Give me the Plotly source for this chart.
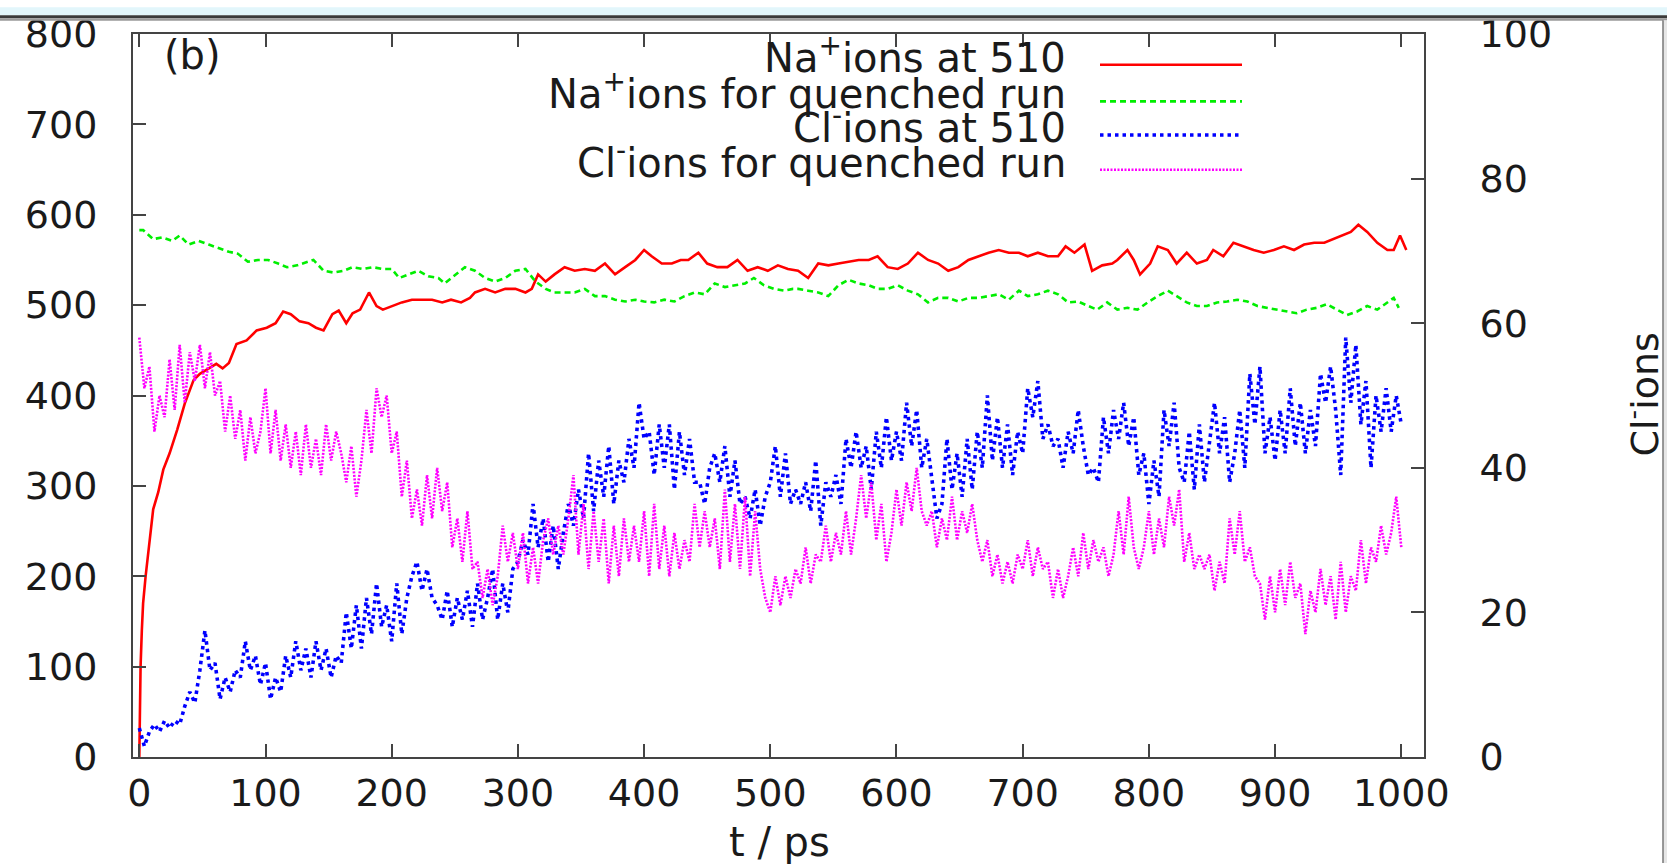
import plotly.graph_objects as go

# ---------------- data ----------------
NA510_T = [0,0.5,1,2,3,5,7,9,11,15,19,24,30,36,43,48,56,61,66,71,77,85,93,101,108,114,120,127,134,140,
           146,153,158,164,169,175,182,188,193,200,208,216,224,232,240,247,255,262,266,274,282,290,298,306,311,316,322,329,337,345,
           353,361,369,377,385,393,400,406,414,422,429,435,443,450,458,466,474,482,490,498,506,514,522,530,538,546,554,562,570,578,
           585,593,601,609,617,625,633,641,649,657,665,673,681,689,697,704,712,720,728,734,741,749,755,763,771,775,783,788,793,801,
           807,815,822,830,838,846,851,859,867,875,883,891,899,907,915,923,931,939,946,954,960,966,973,981,989,994,999,1004]
NA510_V = [0,60,100,140,170,200,227,252,274,293,318,336,362,391,417,424,431,435,430,436,457,461,472,475,480,493,490,482,480,475,
           472,490,494,480,491,495,514,499,495,499,503,506,506,506,503,506,503,508,514,518,514,518,518,514,518,534,526,534,542,538,
           540,538,546,534,542,550,561,554,546,546,550,550,558,546,542,542,550,538,542,538,544,540,538,530,546,544,546,548,550,550,
           554,542,540,546,558,550,546,538,542,550,554,558,561,558,558,554,558,554,554,565,558,567,538,544,546,550,561,550,534,546,
           565,561,546,558,546,550,561,554,569,565,561,558,561,565,561,567,569,569,573,577,581,589,581,569,561,561,577,561]

NAQ_T = [0,3,11,18,26,32,39,47,55,63,71,78,86,94,102,110,117,125,133,138,146,154,162,169,177,185,193,200,206,214,
         221,229,237,242,250,258,266,274,282,290,298,306,314,322,329,337,345,353,361,369,377,385,393,400,408,416,424,432,440,448,
         456,464,472,480,487,495,503,511,518,522,530,538,546,554,562,570,578,585,593,601,609,617,625,633,641,649,657,665,673,681,
         689,697,704,712,720,728,736,744,752,759,767,775,783,791,799,807,815,822,830,838,846,854,862,870,878,886,894,902,910,917,
         925,933,941,949,957,965,973,981,989,994,998]
NAQ_V = [583,583,573,575,571,577,567,571,567,563,559,557,548,550,550,546,542,544,548,550,538,536,538,542,540,542,540,540,530,534,
         538,532,530,524,533,542,538,530,526,530,538,540,526,518,514,514,514,518,510,510,506,504,506,504,503,506,504,510,514,512,
         524,520,522,524,530,522,518,516,518,518,516,514,510,522,528,524,522,518,518,522,516,512,503,508,508,504,508,508,510,512,
         506,516,510,512,516,512,503,504,499,495,503,495,497,495,503,510,516,510,503,499,499,503,504,506,504,499,497,495,493,491,
         495,497,501,495,489,493,499,495,503,508,497]

CL_T = list(range(0, 1001, 4))
CL510_V = [4,1.5,3.5,4.5,3.5, 5,4,5,4.5,7, 9,7.5,12,17.5,12, 13,8,11,9,12, 11,16,12,14,10,
           13,8,11,9,14, 11,16,12,15,11, 16,12,15,11,14, 13,20,15,21,15, 22,17,24,18,21,
           16,24,17,22,25, 27,23,26,22,21, 19,23,18,22,19, 23,18,24,19,22, 26,19,24,20,26,
           27,30,28,35,29, 33,27,32,26,31, 35,32,37,33,42, 34,41,36,43,35, 41,38,44,40,49,
           44,45,39,46,40, 46,37,45,39,44, 38,38,35,40,42, 38,43,36,41,35, 36,33,37,32,36,
           38,43,36,42,35, 37,35,38,34,41, 32,38,36,39,35, 44,40,45,40,43, 37,45,40,47,41,
           45,41,49,43,48, 40,44,38,33,35, 44,37,42,36,44, 37,45,40,50,41, 47,40,46,39,45,
           42,51,47,52,44, 46,43,44,40,45, 42,48,43,39,40, 38,47,42,48,44, 49,43,47,39,42,
           35,41,36,48,43, 49,40,38,45,37, 46,38,44,49,42, 47,38,42,48,40, 53,46,54,42,47,
           41,48,42,51,43, 49,42,48,43,53, 49,54,48,39,58, 49,57,46,52,40, 50,45,51,45,50,46]
CLQ_V = [58,51,54,45,50, 47,55,48,57,49, 56,52,57,51,56, 50,52,45,50,44, 48,41,47,42,45,
         51,42,48,41,46, 40,45,39,46,40, 44,39,46,41,45, 42,38,43,36,41, 48,42,51,47,50,
         42,45,36,41,33, 37,32,39,33,40, 34,38,29,33,27, 34,26,27,22,26, 21,25,32,27,31,
         26,31,24,29,24, 30,33,28,32,28, 33,39,28,35,26, 34,27,33,24,32, 25,33,27,32,27,
         34,25,35,26,32, 25,31,26,30,27, 35,29,34,29,33, 26,37,27,35,26, 36,25,34,26,22,
         20,25,21,25,22, 26,24,29,24,28, 27,32,27,31,28, 34,28,33,39,33, 38,30,35,27,31,
         37,32,38,34,40, 34,32,34,29,33, 30,36,30,34,31, 35,30,27,30,25, 28,24,27,24,28,
         26,30,25,29,26, 27,22,26,22,25, 29,25,31,26,30, 27,29,25,28,34, 28,36,29,26,29,
         34,28,33,29,36, 32,37,27,31,26, 28,26,28,23,27, 24,33,28,34,27, 29,25,24,19,25,
         20,26,21,27,22, 24,17,23,20,26, 21,25,19,27,20, 25,23,30,24,29, 27,32,28,31,36,29]

X_TICKS = [0, 100, 200, 300, 400, 500, 600, 700, 800, 900, 1000]
Y_TICKS = [0, 100, 200, 300, 400, 500, 600, 700, 800]
Y2_TICKS = [0, 20, 40, 60, 80, 100]

LEGEND_LABELS = ["Na<sup>+</sup>ions at 510", "Na<sup>+</sup>ions for quenched run",
                 "Cl<sup>-</sup>ions at 510", "Cl<sup>-</sup>ions for quenched run"]

# ---------------- styles ----------------
COLORS = ["#ff0000", "#00ee00", "#0000ff", "#ff00ff"]
WIDTHS = [2.6, 2.6, 3.6, 2.6]
DASHES = ["solid", "6px,4px", "3.5px,4px", "2px,1.5px"]
FONT = "DejaVu Sans, Liberation Sans, Arial, sans-serif"
TXT = "#1a1a1a"
FRAME = "#444444"

# layout geometry (pixels)
W, H = 1667, 864
L, R, T, B = 133, 1667 - 1424, 27, 864 - 757
PW, PH = W - L - R, H - T - B

def px_x(X):
    return (X - L) / PW

def px_y(Y):
    return (H - B - Y) / PH

fig = go.Figure()

series = [(NA510_T, NA510_V, "y"), (NAQ_T, NAQ_V, "y"),
          (CL_T[:len(CL510_V)], CL510_V, "y2"), (CL_T[:len(CLQ_V)], CLQ_V, "y2")]
for i, (tx, vy, ax) in enumerate(series):
    fig.add_trace(go.Scatter(x=tx, y=vy, yaxis=ax, mode="lines", showlegend=False,
                             line=dict(color=COLORS[i], width=WIDTHS[i], dash=DASHES[i]),
                             hoverinfo="skip"))

shapes = []
annotations = []

# legend (text right-aligned, sample at right)
text_rows = [48, 85, 119, 154]
line_rows = [58, 95, 129, 164]
for i, lab in enumerate(LEGEND_LABELS):
    annotations.append(dict(xref="paper", yref="paper", x=px_x(1068), y=px_y(text_rows[i]), text=lab,
                            showarrow=False, xanchor="right", yanchor="middle",
                            font=dict(family=FONT, size=40, color=TXT)))
    yy = px_y(line_rows[i])
    shapes.append(dict(type="line", xref="paper", yref="paper", x0=px_x(1100), x1=px_x(1242),
                       y0=yy, y1=yy, line=dict(color=COLORS[i], width=WIDTHS[i], dash=DASHES[i])))

annotations.append(dict(xref="paper", yref="paper", x=px_x(192), y=px_y(48), text="(b)",
                        showarrow=False, xanchor="center", yanchor="middle",
                        font=dict(family=FONT, size=40, color=TXT)))
annotations.append(dict(xref="paper", yref="paper", x=px_x(1642), y=px_y(391), text="Cl<sup>-</sup>ions",
                        showarrow=False, xanchor="center", yanchor="middle", textangle=-90,
                        font=dict(family=FONT, size=38, color=TXT)))
# x-axis title
annotations.append(dict(xref="paper", yref="paper", x=px_x(779), y=px_y(843), text="t / ps",
                        showarrow=False, xanchor="center", yanchor="middle",
                        font=dict(family=FONT, size=40, color=TXT)))

# screenshot frame decorations
shapes.append(dict(type="rect", xref="paper", yref="paper", x0=px_x(0), x1=px_x(W), y0=px_y(8), y1=px_y(0),
                   fillcolor="#e2f6fb", line=dict(width=0), layer="below"))
shapes.append(dict(type="rect", xref="paper", yref="paper", x0=px_x(0), x1=px_x(W), y0=px_y(11), y1=px_y(8),
                   fillcolor="#3a3a3a", line=dict(width=0)))
shapes.append(dict(type="rect", xref="paper", yref="paper", x0=px_x(0), x1=px_x(W), y0=px_y(13.5), y1=px_y(11),
                   fillcolor="#9a9a9a", line=dict(width=0)))
shapes.append(dict(type="rect", xref="paper", yref="paper", x0=px_x(1663), x1=px_x(W), y0=px_y(H), y1=px_y(13),
                   fillcolor="#e6e6e6", line=dict(width=0)))
shapes.append(dict(type="line", xref="paper", yref="paper", x0=px_x(1663), x1=px_x(1663), y0=px_y(H), y1=px_y(13),
                   line=dict(color="#777777", width=1.5)))

tickfont = dict(family=FONT, size=38, color=TXT)
fig.update_layout(
    width=W, height=H, margin=dict(l=L, r=R, t=T, b=B),
    paper_bgcolor="white", plot_bgcolor="white",
    xaxis=dict(range=[-5, 1018], tickvals=X_TICKS, ticks="inside", ticklen=13, tickwidth=1.5,
               tickcolor=FRAME, showline=True, linecolor=FRAME, linewidth=2, mirror="ticks",
               showgrid=False, zeroline=False, tickfont=tickfont, ticklabelstandoff=1),
    yaxis=dict(range=[0, 800], tickvals=Y_TICKS, ticks="inside", ticklen=13, tickwidth=1.5,
               tickcolor=FRAME, showline=True, linecolor=FRAME, linewidth=2,
               showgrid=False, zeroline=False, tickfont=tickfont, ticklabelstandoff=26),
    yaxis2=dict(range=[0, 100], tickvals=Y2_TICKS, overlaying="y", side="right", ticks="inside",
                ticklen=13, tickwidth=1.5, tickcolor=FRAME, showline=True, linecolor=FRAME, linewidth=2,
                showgrid=False, zeroline=False, tickfont=tickfont, ticklabelstandoff=46),
    shapes=shapes, annotations=annotations, showlegend=False,
)

fig.write_html("out.html")
